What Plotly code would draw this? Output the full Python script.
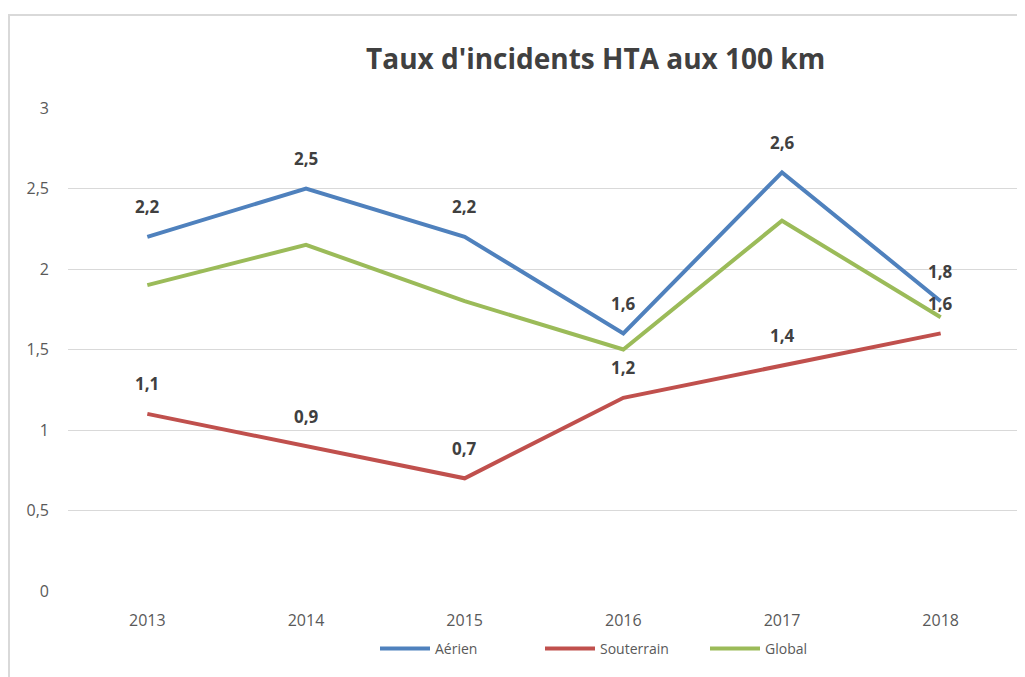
import plotly.graph_objects as go

years = ["2013", "2014", "2015", "2016", "2017", "2018"]
aerien = [2.2, 2.5, 2.2, 1.6, 2.6, 1.8]
souterrain = [1.1, 0.9, 0.7, 1.2, 1.4, 1.6]
global_ = [1.9, 2.15, 1.8, 1.5, 2.3, 1.7]

series = [
    ("Aérien", aerien, "#4F81BD", True),
    ("Souterrain", souterrain, "#C0504D", True),
    ("Global", global_, "#9BBB59", False),
]

OFF = 8  # page body margin
W, H = 1025 - OFF, 677 - OFF
L, R, T, B = 68 - OFF, 13 - OFF, 108 - OFF, 86
pw, ph = W - L - R, H - T - B

def px(x):
    return (x - OFF - L) / pw

def py(y):
    return (H - B - (y - OFF)) / ph

fig = go.Figure()
annotations = []
for name, vals, color, labelled in series:
    fig.add_trace(go.Scatter(
        x=years, y=vals, name=name, mode="lines",
        line=dict(color=color, width=4),
    ))
    if labelled:
        for i, yv in enumerate(vals):
            annotations.append(dict(
                x=i, y=yv, xref="x", yref="y",
                text="<b>" + f"{yv:.1f}".replace(".", ",") + "</b>",
                showarrow=False, yshift=30,
                font=dict(family="Open Sans", size=17, color="#404040"),
            ))

annotations.append(dict(
    x=px(595), y=py(58), xref="paper", yref="paper",
    text="<b>Taux d'incidents HTA aux 100 km</b>", showarrow=False,
    font=dict(family="Open Sans", size=28, color="#404040"),
    xanchor="center", yanchor="middle",
))

fig.update_layout(
    width=W, height=H,
    margin=dict(l=L, r=R, t=T, b=B, autoexpand=False),
    paper_bgcolor="white", plot_bgcolor="white",
    separators=", ",
    annotations=annotations,
    shapes=[dict(type="rect", xref="paper", yref="paper",
                 x0=px(9), x1=px(1040), y0=py(15), y1=py(700),
                 line=dict(color="#d9d9d9", width=2), layer="below")],
    xaxis=dict(
        type="category", range=[-0.5, 5.5], showgrid=False, zeroline=False,
        showline=False, ticks="",
        tickfont=dict(family="Open Sans", size=16, color="#595959"),
        ticklabelstandoff=18,
    ),
    yaxis=dict(
        range=[0, 3], dtick=0.5, showgrid=True, gridcolor="#d9d9d9", gridwidth=1,
        zeroline=False, showline=False, ticks="",
        tickfont=dict(family="Open Sans", size=16, color="#595959"),
        ticklabelstandoff=18,
    ),
    legend=dict(
        orientation="h", x=px(375), y=py(649), xanchor="left", yanchor="middle",
        font=dict(family="Open Sans", size=14, color="#595959"),
        entrywidth=100, itemwidth=50,
    ),
    showlegend=True,
)

fig.write_html("out.html")
